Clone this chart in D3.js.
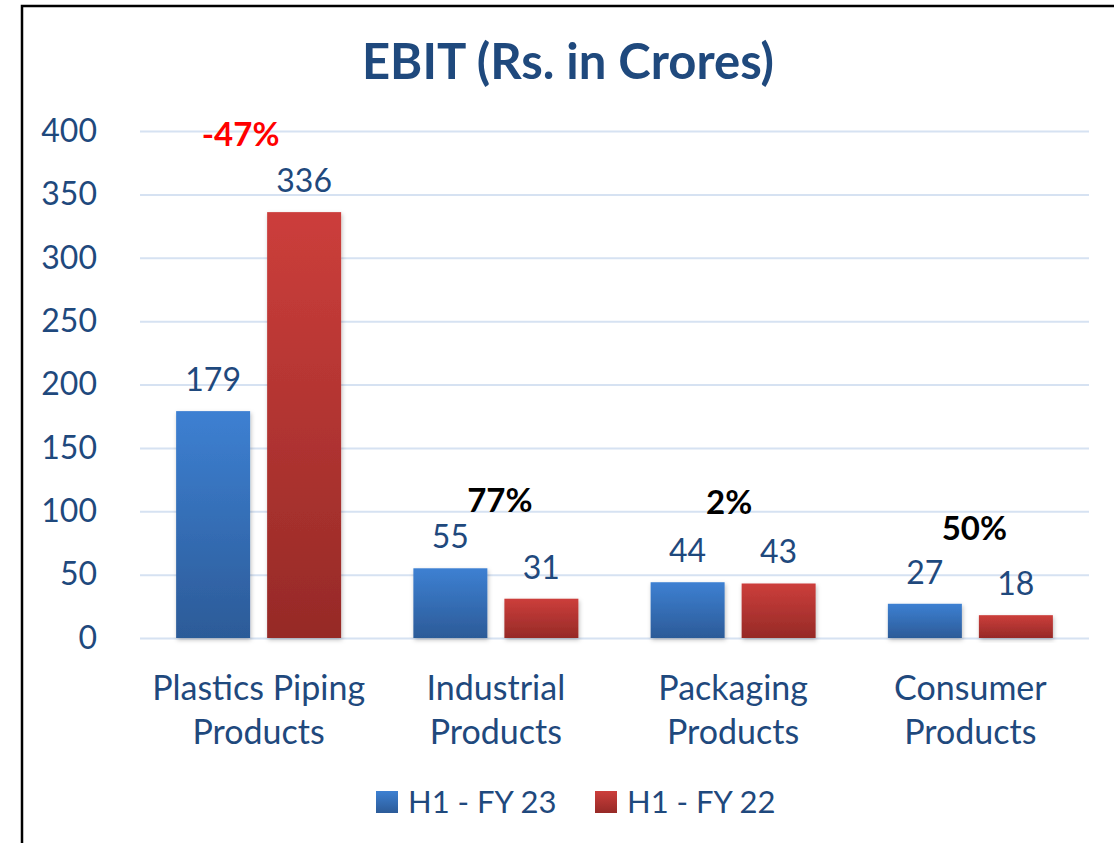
<!DOCTYPE html>
<html>
<head>
<meta charset="utf-8">
<script src="https://cdn.jsdelivr.net/npm/d3@7"></script>
<style>
  html, body { margin: 0; padding: 0; background: #fff; }
  svg { display: block; font-family: Lato, "Open Sans", sans-serif; }
</style>
</head>
<body>
<div id="chart"></div>
<script>
// data
const categories = ["Plastics Piping Products", "Industrial Products", "Packaging Products", "Consumer Products"];
const categoryLines = [["Plastics Piping", "Products"], ["Industrial", "Products"], ["Packaging", "Products"], ["Consumer", "Products"]];
const seriesNames = ["H1 - FY 23", "H1 - FY 22"];
const fy23 = [179, 55, 44, 27];
const fy22 = [336, 31, 43, 18];
const changeLabels = ["-47%", "77%", "2%", "50%"];
const changeLevel = [398, 109, 107, 87];
const yTicks = [0, 50, 100, 150, 200, 250, 300, 350, 400];

const W = 1114, H = 843;
const plot = { left: 140, right: 1089, top: 131, bottom: 638 };
const navy = "#1F497D";

const svg = d3.select("#chart").append("svg")
    .attr("width", W).attr("height", H);

const defs = svg.append("defs");
const grads = [
    { id: "gBlue", top: "#3D80D2", bottom: "#2C5B98" },
    { id: "gRed", top: "#CC3E3B", bottom: "#962A27" }
];
grads.forEach(g => {
    const lg = defs.append("linearGradient").attr("id", g.id)
        .attr("x1", 0).attr("y1", 0).attr("x2", 0).attr("y2", 1);
    lg.append("stop").attr("offset", "0%").attr("stop-color", g.top);
    lg.append("stop").attr("offset", "100%").attr("stop-color", g.bottom);
});
const shadow = defs.append("filter").attr("id", "shadow")
    .attr("x", "-20%").attr("y", "-20%").attr("width", "140%").attr("height", "140%");
shadow.append("feDropShadow").attr("dx", 1).attr("dy", 2).attr("stdDeviation", 2)
    .attr("flood-color", "#000").attr("flood-opacity", 0.25);

// outer frame
svg.append("path")
    .attr("d", `M22,${H} L22,6 L${W},6`)
    .attr("fill", "none").attr("stroke", "#000").attr("stroke-width", 2.5);

const x = d3.scaleBand().domain(categories).range([plot.left, plot.right]).paddingInner(0).paddingOuter(0);
const groupW = 165;
const xs = d3.scaleBand().domain(seriesNames).range([0, groupW]).paddingInner(0.187);
const y = d3.scaleLinear().domain([0, 400]).range([plot.bottom, plot.top]);

// grid
svg.append("g")
    .attr("transform", `translate(${plot.left},0)`)
    .call(d3.axisLeft(y).tickValues(yTicks).tickSize(-(plot.right - plot.left)).tickFormat(""))
    .call(g => g.select(".domain").remove())
    .call(g => g.selectAll("line").attr("stroke", "#D6E2F2").attr("stroke-width", 2));

// y tick labels
svg.append("g")
    .attr("transform", "translate(97,0)")
    .call(d3.axisLeft(y).tickValues(yTicks).tickSize(0).tickPadding(0))
    .call(g => g.select(".domain").remove())
    .call(g => g.selectAll("text").attr("fill", navy).style("font-size", "32px")
        .attr("font-family", "Lato, sans-serif"));

// title
svg.append("text")
    .attr("x", 568).attr("y", 79)
    .attr("text-anchor", "middle")
    .attr("fill", navy).style("font-size", "49px").style("font-weight", "bold")
    .text("EBIT (Rs. in Crores)");

const rows = categories.map((c, i) => ({ c, i, vals: [fy23[i], fy22[i]] }));

const groups = svg.selectAll(".grp").data(rows).join("g")
    .attr("class", "grp")
    .attr("transform", d => `translate(${x(d.c) + x.bandwidth() / 2 - groupW / 2},0)`);

groups.selectAll("rect")
    .data(d => d.vals.map((v, k) => ({ s: seriesNames[k], v, k })))
    .join("rect")
    .attr("x", d => xs(d.s))
    .attr("y", d => y(d.v))
    .attr("width", xs.bandwidth())
    .attr("height", d => y(0) - y(d.v))
    .attr("fill", d => `url(#${grads[d.k].id})`)
    .attr("filter", "url(#shadow)");

groups.selectAll(".val")
    .data(d => d.vals.map((v, k) => ({ s: seriesNames[k], v, k })))
    .join("text")
    .attr("class", "val")
    .attr("x", d => xs(d.s) + xs.bandwidth() / 2)
    .attr("y", d => y(d.v) - 20)
    .attr("text-anchor", "middle")
    .attr("fill", navy).style("font-size", "32px")
    .text(d => d.v);

// category labels
const cat = svg.selectAll(".cat").data(rows).join("text")
    .attr("class", "cat")
    .attr("text-anchor", "middle")
    .attr("fill", navy).style("font-size", "34px");
cat.selectAll("tspan")
    .data(d => categoryLines[d.i].map(t => ({ t, cx: x(d.c) + x.bandwidth() / 2 })))
    .join("tspan")
    .attr("x", d => d.cx)
    .attr("y", (d, j) => 700 + j * 44)
    .text(d => d.t);

// change annotations
svg.selectAll(".chg").data(rows).join("text")
    .attr("class", "chg")
    .attr("x", d => x(d.c) + x.bandwidth() / 2 + (d.i === 0 ? -18 : (d.i === 2 ? -4 : 4)))
    .attr("y", d => y(changeLevel[d.i]) + 12)
    .attr("text-anchor", "middle")
    .attr("fill", d => d.i === 0 ? "#FF0000" : "#000")
    .style("font-size", "33px").style("font-weight", "bold")
    .text(d => changeLabels[d.i]);

// legend
const legend = svg.append("g").attr("transform", "translate(376,791)");
const legendStep = [0, 219];
seriesNames.forEach((s, k) => {
    const lg = legend.append("g").attr("transform", `translate(${legendStep[k]},0)`);
    lg.append("rect").attr("width", 22).attr("height", 22).attr("fill", `url(#${grads[k].id})`);
    lg.append("text").attr("x", 32).attr("y", 22)
        .attr("fill", navy).style("font-size", "31px").text(s);
});
</script>
</body>
</html>
